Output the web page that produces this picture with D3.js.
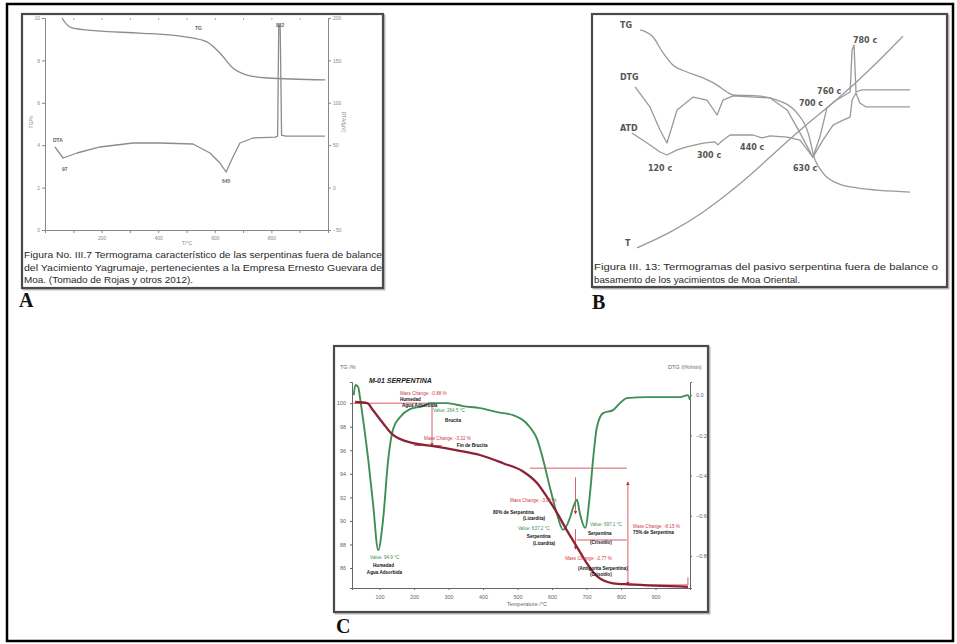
<!DOCTYPE html>
<html>
<head>
<meta charset="utf-8">
<script src="https://cdn.jsdelivr.net/npm/d3@7"></script>
<style>
body { margin: 0; background: #fff; }
svg { display: block; }
</style>
</head>
<body>
<svg id="fig" width="957" height="644"></svg>
<script>
// ---------- panel A : TG / DTA (Yagrumaje) ----------
var aTgTemp = [60, 75, 95, 184, 336, 502, 572, 618, 664, 714, 784, 990];
var aTgMass = [10.0, 9.72, 9.53, 9.39, 9.29, 9.1, 8.87, 8.35, 7.64, 7.31, 7.17, 7.08];
var aDtaTemp = [35, 64, 113, 194, 311, 406, 523, 583, 618, 640, 664, 689, 735, 813, 822, 826, 831, 836, 850, 989];
var aDtaSig = [47.9, 34.9, 40.8, 47.9, 52.6, 52.6, 51.4, 40.8, 29.0, 18.4, 36.1, 52.6, 58.5, 59.6, 60.8, 192, 192, 62, 60.8, 60.8];
var aXTicks = [100, 200, 300, 400, 500, 600, 700, 800, 900];
var aLeftTicks = [0, 2, 4, 6, 8, 10];
var aRightTicks = [-50, 0, 50, 100, 150, 200];
var aCaption = [
    "Figura No. III.7 Termograma característico de las serpentinas fuera de balance",
    "del Yacimiento Yagrumaje, pertenecientes a la Empresa Ernesto Guevara de",
    "Moa. (Tomado de Rojas y otros 2012)."];

// ---------- panel B : TG / DTG / ATD / T (Moa Oriental) ----------
var bTgTemp = [29, 75, 111, 146, 196, 254, 304, 339, 361, 446, 518, 589, 636, 646, 682, 732, 804, 993];
var bTgVal = [95.7, 92.6, 85.7, 80.4, 77.4, 74.8, 71.7, 68.7, 67.4, 67.0, 65.2, 59.6, 47.8, 42.2, 33.5, 29.1, 27.0, 25.2];
var bDtgTemp = [11, 64, 100, 125, 161, 218, 268, 304, 325, 361, 493, 554, 600, 646, 682, 718, 754, 779, 786, 800, 814, 836, 993];
var bDtgVal = [70.9, 62.2, 52.2, 46.5, 60.9, 66.5, 65.2, 58.7, 65.2, 67.0, 66.1, 60.9, 50.9, 40.4, 47.8, 54.3, 56.5, 57.8, 65.2, 68.3, 63.9, 62.2, 62.2];
var bAtdTemp = [0, 54, 100, 125, 161, 196, 254, 296, 307, 321, 350, 432, 464, 493, 554, 600, 646, 671, 696, 725, 761, 779, 786, 793, 800, 821, 993];
var bAtdVal = [50.9, 46.5, 42.6, 41.3, 43.5, 44.8, 46.5, 47.0, 45.7, 47.4, 50.0, 50.0, 48.7, 49.6, 49.1, 47.8, 40.4, 49.1, 61.7, 64.8, 67.4, 68.7, 87.0, 89.1, 68.7, 69.6, 69.6];
var bTTemp = [18, 136, 254, 375, 493, 611, 732, 850, 968];
var bTVal = [0.9, 7.4, 16.1, 27.4, 40.4, 53.5, 65.2, 78.3, 93.0];
var bLabels = [
    [-43, 96.5, "TG"], [-43, 73.9, "DTG"], [-43, 51.7, "ATD"], [-25, 1.7, "T"],
    [57, 34.3, "120 c"], [232, 40.0, "300 c"], [386, 43.5, "440 c"], [575, 34.3, "630 c"],
    [596, 62.6, "700 c"], [661, 67.8, "760 c"], [789, 90.0, "780 c"]];
var bCaption = [
    "Figura III. 13: Termogramas del pasivo serpentina fuera de balance o",
    "basamento de los yacimientos de Moa Oriental."];

// ---------- panel C : M-01 serpentina ----------
var cTgTemp = [29, 64, 81, 110, 139, 197, 246, 325, 391, 458, 516, 557, 586, 614, 643, 672, 701, 730, 777, 826, 994];
var cTgMass = [100.1, 100, 99.4, 98.3, 97.3, 96.6, 96.4, 96.0, 95.6, 94.9, 94.2, 93.2, 92.0, 90.7, 89.2, 87.8, 86.4, 85.3, 84.7, 84.6, 84.4];
var cDtgTemp = [25, 30, 38, 43, 52, 67, 81, 96, 110, 125, 139, 159, 188, 226, 246, 296, 342, 391, 441, 487, 536, 557, 574, 594, 614, 632, 652, 661, 672, 681, 696, 710, 719, 730, 748, 777, 797, 817, 875, 971, 994, 1000];
var cDtgRate = [0.0, 0.05, 0.04, -0.01, -0.12, -0.32, -0.54, -0.77, -0.62, -0.32, -0.17, -0.11, -0.07, -0.055, -0.04, -0.04, -0.055, -0.065, -0.085, -0.10, -0.16, -0.22, -0.32, -0.46, -0.59, -0.67, -0.61, -0.56, -0.52, -0.59, -0.66, -0.49, -0.32, -0.16, -0.09, -0.075, -0.04, -0.015, -0.01, -0.01, 0.0, -0.025];
var cXTicks = [100, 200, 300, 400, 500, 600, 700, 800, 900];
var cLeftTicks = [86, 88, 90, 92, 94, 96, 98, 100];
var cRightTicks = [0, -0.2, -0.4, -0.6, -0.8];
// step lines: t1, tg1, t2, tg2, arrow
var cSteps = [
    [20, 100, 255, 100, 0], [252, 100, 252, 96.35, 1], [200, 96.4, 280, 96.4, 0],
    [536, 94.48, 817, 94.48, 0], [820, 93.3, 820, 84.56, 2], [672, 88.38, 817, 88.38, 0],
    [668, 93.7, 668, 90.6, 1], [668, 89.3, 668, 87.6, 1],
    [817, 84.56, 994, 84.56, 0], [994, 84.56, 994, 85.2, 0]];
// notes: t, tg, text, kind (m = mass change, v = value, b = black)
var cNotes = [
    [159, 100.68, "Mass Change: -0.88 %", "m"], [159, 100.17, "Humedad", "b"], [165, 99.66, "Agua Adsorbida", "b"],
    [255, 99.24, "Value: 264.5 °C", "v"], [290, 98.39, "Brucita", "b"],
    [229, 96.86, "Mass Change: -3.32 %", "m"], [324, 96.27, "Fin de Brucita", "b"],
    [72, 86.76, "Value: 94.9 °C", "v"], [81, 86.09, "Humedad", "b"], [63, 85.49, "Agua Adsorbida", "b"],
    [478, 91.6, "Mass Change: -3.82 %", "m"], [429, 90.58, "80% de Serpentina", "b"], [516, 90.07, "(Lizardita)", "b"],
    [501, 89.22, "Value: 637.2 °C", "v"], [527, 88.55, "Serpentina", "b"], [545, 87.95, "(Lizardita)", "b"],
    [710, 89.56, "Value: 697.1 °C", "v"], [704, 88.8, "Serpentina", "b"], [710, 88.04, "(Crisotilo)", "b"],
    [835, 89.4, "Mass Change: -8.15 %", "m"], [835, 88.89, "75% de Serpentina", "b"],
    [638, 86.68, "Mass Change: -2.77 %", "m"], [675, 85.83, "(Antigorita Serpentina)", "b"], [710, 85.32, "(Crisotilo)", "b"]];

var FONT = "Arial, 'Liberation Sans', sans-serif";
var svg = d3.select("#fig");

var defs = svg.append("defs");
defs.append("marker").attr("id", "arr")
    .attr("viewBox", "0 0 6 6").attr("refX", 5).attr("refY", 3)
    .attr("markerWidth", 4).attr("markerHeight", 4)
    .attr("orient", "auto-start-reverse")
    .append("path").attr("d", "M0,0L6,3L0,6z").attr("fill", "#c83040");

// outer black frame
svg.append("rect")
    .attr("x", 7).attr("y", 4).attr("width", 946).attr("height", 637)
    .attr("fill", "none").attr("stroke", "#000").attr("stroke-width", 2.5);

function panelBox(x, y, w, h) {
    svg.append("rect").attr("x", x + 1.5).attr("y", y + 1.5).attr("width", w).attr("height", h)
        .attr("fill", "none").attr("stroke", "#bbb").attr("stroke-width", 2);
    svg.append("rect").attr("x", x).attr("y", y).attr("width", w).attr("height", h)
        .attr("fill", "#fff").attr("stroke", "#4a4a4a").attr("stroke-width", 2.2);
}

function curve(g, xs, ys, temps, vals, color, width, kind) {
    var pts = temps.map(function (t, i) { return [t, vals[i]]; });
    g.append("path").datum(pts)
        .attr("fill", "none").attr("stroke", color).attr("stroke-width", width)
        .attr("stroke-linejoin", "round")
        .attr("d", d3.line().x(function (d) { return xs(d[0]); }).y(function (d) { return ys(d[1]); })
            .curve(kind || d3.curveMonotoneX));
}

function styleAxis(g, size, color) {
    g.select(".domain").attr("stroke", color);
    g.selectAll(".tick line").attr("stroke", color);
    g.selectAll(".tick text").attr("fill", color).style("font", size + "px " + FONT);
}

// each caption line is squeezed/stretched to the width it has in the scan
function caption(lines, x, y0, widths) {
    lines.forEach(function (s, i) {
        svg.append("text").attr("x", x).attr("y", y0 + i * 12.6)
            .attr("fill", "#2a2a2a").style("font", "9.2px " + FONT)
            .attr("textLength", widths[i]).attr("lengthAdjust", "spacingAndGlyphs")
            .text(s);
    });
}

function letter(s, x, y) {
    svg.append("text").attr("x", x).attr("y", y)
        .attr("fill", "#111").style("font", "bold 20px 'Liberation Serif', 'DejaVu Serif', serif").text(s);
}

// ================= panel A =================
panelBox(22, 14, 361, 274);
(function () {
    var g = svg.append("g");
    var x = d3.scaleLinear().domain([0, 1000]).range([45, 328]),
        yL = d3.scaleLinear().domain([0, 10]).range([230, 18]),
        yR = d3.scaleLinear().domain([-50, 200]).range([230, 18]);

    var gx = g.append("g").attr("transform", "translate(0,230)")
        .call(d3.axisBottom(x).tickValues(aXTicks).tickSize(3).tickPadding(3)
            .tickFormat(function (d) { return d % 200 === 0 ? d : ""; }));
    styleAxis(gx, 5, "#888");
    var gt = g.append("g").attr("transform", "translate(0,18)")
        .call(d3.axisBottom(x).tickValues(aXTicks).tickSize(2).tickFormat(""));
    gt.select(".domain").remove();
    gt.selectAll(".tick line").attr("stroke", "#aaa");
    var gl = g.append("g").attr("transform", "translate(45,0)")
        .call(d3.axisLeft(yL).tickValues(aLeftTicks).tickSize(3).tickPadding(2));
    styleAxis(gl, 5, "#888");
    var gr = g.append("g").attr("transform", "translate(328,0)")
        .call(d3.axisRight(yR).tickValues(aRightTicks).tickSize(3).tickPadding(2));
    styleAxis(gr, 5, "#888");

    g.append("text").attr("x", 187).attr("y", 245).attr("text-anchor", "middle")
        .attr("fill", "#888").style("font", "5px " + FONT).text("T/°C");
    g.append("text").attr("transform", "translate(33,122) rotate(-90)").attr("text-anchor", "middle")
        .attr("fill", "#888").style("font", "5px " + FONT).text("TG/%");
    g.append("text").attr("transform", "translate(342,122) rotate(90)").attr("text-anchor", "middle")
        .attr("fill", "#888").style("font", "5px " + FONT).text("DTA/(µV)");

    curve(g, x, yL, aTgTemp, aTgMass, "#8c8c8c", 1.3);
    curve(g, x, yR, aDtaTemp, aDtaSig, "#8c8c8c", 1.3, d3.curveLinear);

    var lab = [[530, 9.45, "TG", yL], [28, 54, "DTA", yR], [60, 19, "97", yR], [625, 5, "645", yR], [816, 189, "822", yR]];
    lab.forEach(function (d) {
        g.append("text").attr("x", x(d[0])).attr("y", d[3](d[1]))
            .attr("fill", "#666").style("font", "bold 5px " + FONT).text(d[2]);
    });
})();
caption(aCaption, 24, 258, [358, 358, 169]);
letter("A", 19, 307);

// ================= panel B =================
panelBox(592, 14, 355, 273);
(function () {
    var g = svg.append("g");
    var x = d3.scaleLinear().domain([0, 1000]).range([632, 912]),
        y = d3.scaleLinear().domain([0, 100]).range([250, 20]);
    curve(g, x, y, bTTemp, bTVal, "#999", 1.3, d3.curveBasis);
    curve(g, x, y, bTgTemp, bTgVal, "#999", 1.3);
    curve(g, x, y, bDtgTemp, bDtgVal, "#999", 1.3, d3.curveLinear);
    curve(g, x, y, bAtdTemp, bAtdVal, "#999", 1.3, d3.curveLinear);
    bLabels.forEach(function (d) {
        g.append("text").attr("x", x(d[0])).attr("y", y(d[1]))
            .attr("fill", "#555").style("font", "bold 8px 'DejaVu Sans', sans-serif").text(d[2]);
    });
})();
caption(bCaption, 594, 270, [344, 206]);
letter("B", 592, 309);

// ================= panel C =================
panelBox(334, 346, 374, 266);
(function () {
    var g = svg.append("g");
    var x = d3.scaleLinear().domain([20, 1000]).range([352, 690]),
        yL = d3.scaleLinear().domain([84.3, 101.8]).range([588, 382]),
        yR = d3.scaleLinear().domain([-0.959, 0.065]).range([588, 382]);

    var gx = g.append("g").attr("transform", "translate(0,588)")
        .call(d3.axisBottom(x).tickValues(cXTicks).tickSize(2).tickPadding(5));
    styleAxis(gx, 5.5, "#666");
    var gl = g.append("g").attr("transform", "translate(352,0)")
        .call(d3.axisLeft(yL).tickValues(cLeftTicks).tickSize(2).tickPadding(4));
    styleAxis(gl, 5.5, "#666");
    var gr = g.append("g").attr("transform", "translate(690,0)")
        .call(d3.axisRight(yR).tickValues(cRightTicks).tickSize(2).tickPadding(4)
            .tickFormat(d3.format(".1f")));
    styleAxis(gr, 5.5, "#666");

    g.append("text").attr("x", 340).attr("y", 369).attr("fill", "#666")
        .style("font", "5.5px " + FONT).text("TG /%");
    g.append("text").attr("x", 668).attr("y", 369).attr("fill", "#666")
        .style("font", "5.5px " + FONT).text("DTG /(%/min)");
    g.append("text").attr("x", 527).attr("y", 606).attr("text-anchor", "middle").attr("fill", "#666")
        .style("font", "5.5px " + FONT).text("Temperature /°C");
    g.append("text").attr("x", x(69)).attr("y", yL(101.7)).attr("fill", "#222")
        .style("font", "italic bold 7px " + FONT).text("M-01 SERPENTINA");

    cSteps.forEach(function (d) {
        var l = g.append("line")
            .attr("x1", x(d[0])).attr("y1", yL(d[1])).attr("x2", x(d[2])).attr("y2", yL(d[3]))
            .attr("stroke", "#d8485a").attr("stroke-width", 0.9);
        if (d[4] >= 1) l.attr("marker-end", "url(#arr)");
        if (d[4] === 2) l.attr("marker-start", "url(#arr)");
    });

    curve(g, x, yR, cDtgTemp, cDtgRate, "#3f8f55", 1.9);
    curve(g, x, yL, cTgTemp, cTgMass, "#8c2236", 2.3);

    var noteColor = { m: "#d03848", v: "#3f8f55", b: "#111" };
    cNotes.forEach(function (d) {
        g.append("text").attr("x", x(d[0])).attr("y", yL(d[1]))
            .attr("fill", noteColor[d[3]])
            .style("font", (d[3] === "b" ? "bold " : "") + "4.6px " + FONT).text(d[2]);
    });
})();
letter("C", 336, 633);
</script>
</body>
</html>
